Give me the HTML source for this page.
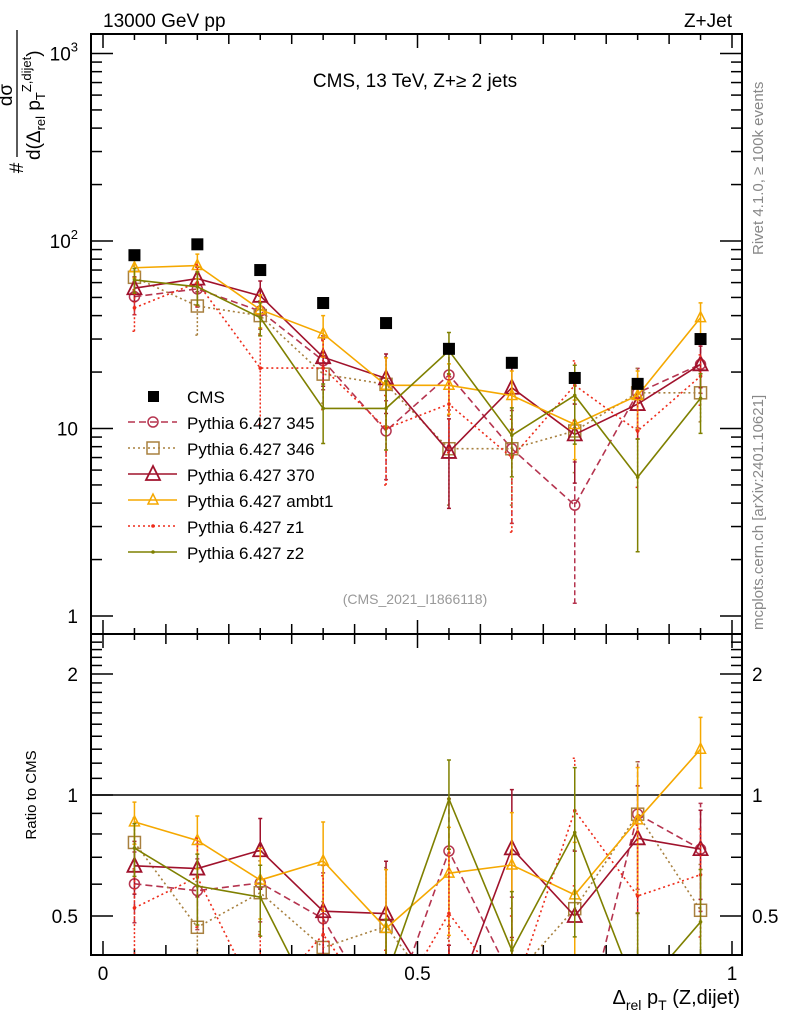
<!DOCTYPE html>
<html><head><meta charset="utf-8"><style>
html,body{margin:0;padding:0;background:#fff;width:786px;height:1024px;overflow:hidden;}
svg{display:block;font-family:"Liberation Sans",Arial,sans-serif;}
</style></head><body>
<svg id="plot" width="786" height="1024" viewBox="0 0 786 1024" xmlns="http://www.w3.org/2000/svg">
<defs>
<clipPath id="cMain"><rect x="91" y="34" width="651" height="600"/></clipPath>
<clipPath id="cRat"><rect x="91" y="634" width="651" height="321"/></clipPath>
</defs>
<text x="103" y="27" font-size="19">13000 GeV pp</text>
<text x="732" y="27" font-size="19" text-anchor="end">Z+Jet</text>
<text x="415" y="87" font-size="19" text-anchor="middle">CMS, 13 TeV, Z+≥ 2 jets</text>
<text x="415" y="604" font-size="14" fill="#999" text-anchor="middle">(CMS_2021_I1866118)</text>
<text transform="translate(763,255) rotate(-90)" font-size="15" fill="#888">Rivet 4.1.0, ≥ 100k events</text>
<text transform="translate(763,630) rotate(-90)" font-size="15" fill="#888">mcplots.cern.ch [arXiv:2401.10621]</text>
<g font-size="19">
<text transform="translate(23,168) rotate(-90)" text-anchor="middle">#</text>
<text transform="translate(12,95) rotate(-90)" text-anchor="middle">dσ</text>
<line x1="17" y1="30" x2="17" y2="157" stroke="#000" stroke-width="1.3"/>
<text transform="translate(40,160) rotate(-90)">d(Δ<tspan font-size="13" dy="5">rel</tspan><tspan dy="-5"> p</tspan><tspan font-size="13" dy="5">T</tspan><tspan font-size="13" dy="-14">Z,dijet</tspan><tspan dy="9">)</tspan></text>
</g>
<text transform="translate(36,795) rotate(-90)" font-size="15" text-anchor="middle">Ratio to CMS</text>
<text x="740" y="1004" font-size="20" text-anchor="end">Δ<tspan font-size="14" dy="6">rel</tspan><tspan dy="-6"> p</tspan><tspan font-size="14" dy="6">T</tspan><tspan dy="-6"> (Z,dijet)</tspan></text>
<g id="axes"></g>
<g id="mainMarks" clip-path="url(#cMain)"></g>
<g id="ratMarks" clip-path="url(#cRat)"></g>
<g id="legend"></g>
<rect x="91" y="34" width="651" height="600" fill="none" stroke="#000" stroke-width="2"/>
<rect x="91" y="634" width="651" height="321" fill="none" stroke="#000" stroke-width="2"/>
</svg>
<script>
const bins=[0.05,0.15,0.25,0.35,0.45,0.55,0.65,0.75,0.85,0.95];
const cmsVals=[84,96,70,46.7,36.5,26.6,22.4,18.6,17.3,30];
const v345=[50.5,55.5,42.3,23,9.7,19.3,7.8,3.9,15.5,22];
const v346=[64,45,40,19.5,17.2,7.8,7.8,9.7,15.5,15.5];
const v370=[56,63,51,24,18.5,7.5,16.5,9.3,13.5,22];
const vambt1=[72,74,43,32,17,17,15,10.5,15,39];
const vz1=[44,60,21,21,10,13.5,7,17,9.7,19];
const vz2=[62,57,39,12.8,12.8,26,9.2,15,5.5,14.5];
const e345=[0.2,0.2,0.2,0.3,0.45,0.35,0.6,0.7,0.35,0.3];
const e346=[0.15,0.3,0.2,0.3,0.4,0.5,0.5,0.4,0.35,0.3];
const e370=[0.15,0.15,0.2,0.3,0.35,0.5,0.4,0.45,0.35,0.25];
const eambt1=[0.12,0.15,0.2,0.25,0.4,0.3,0.35,0.35,0.35,0.2];
const ez1=[0.25,0.25,0.5,0.4,0.5,0.45,0.6,0.35,0.5,0.3];
const ez2=[0.15,0.2,0.2,0.35,0.4,0.25,0.4,0.45,0.6,0.35];
const yTicks=[1,10,100,1000];
const rTicks=[0.5,1,2];
const xTicks=[0,0.5,1];

const NS="http://www.w3.org/2000/svg";
const X=v=>103+629*v;
const Y=v=>616-187.5*Math.log10(v);
const R=v=>795-402*Math.log10(v);
function mk(tag,attrs,parent){const e=document.createElementNS(NS,tag);for(const k in attrs)e.setAttribute(k,attrs[k]);parent.appendChild(e);return e;}
const axes=document.getElementById('axes');
for(let i=0;i<=20;i++){const v=i*0.05;const major=(i%10===0);const minor01=(i%2===0);const L=major?14:(minor01?10:6);
 [634,34,955].forEach((yb,j)=>{const dir=(j===1)?1:-1;
  const t=mk('line',{x1:X(v),x2:X(v),y1:yb,y2:yb+dir*L,stroke:'#000','stroke-width':1.5},axes);
  
  
  if(j===0){mk('line',{x1:X(v),x2:X(v),y1:634,y2:634+L,stroke:'#000','stroke-width':1.5},axes);}
 });}
xTicks.forEach(v=>{const t=mk('text',{x:X(v),y:980,'font-size':19,'text-anchor':'middle'},axes);t.textContent=String(v);
 
 });
for(let d=0;d<4;d++){for(let m=1;m<10;m++){const v=m*Math.pow(10,d);if(v>1300)continue;const y=Y(v);if(y<34)continue;const L=m===1?22:11;
 mk('line',{x1:91,x2:91+L,y1:y,y2:y,stroke:'#000','stroke-width':1.5},axes);
 mk('line',{x1:742,x2:742-L,y1:y,y2:y,stroke:'#000','stroke-width':1.5},axes);}}
yTicks.forEach(v=>{const y=Y(v);const t=mk('text',{x:78,y:y+7,'font-size':19,'text-anchor':'end'},axes);
 if(v<100)t.textContent=String(v);else{t.textContent='10';const s=mk('tspan',{dy:-9,'font-size':13},t);s.textContent=String(Math.log10(v));}
 
 });
[0.4,0.5,0.6,0.7,0.8,0.9,1,2].forEach(v=>{const y=R(v);const major=(v===0.5||v===1||v===2);const L=major?22:11;
 mk('line',{x1:91,x2:91+L,y1:y,y2:y,stroke:'#000','stroke-width':1.5},axes);
 mk('line',{x1:742,x2:742-L,y1:y,y2:y,stroke:'#000','stroke-width':1.5},axes);});
for(let v=1.1;v<2.5;v+=0.1){if(Math.abs(v-2)<0.01)continue;const y=R(v);
 mk('line',{x1:91,x2:102,y1:y,y2:y,stroke:'#000','stroke-width':1.5},axes);
 mk('line',{x1:742,x2:731,y1:y,y2:y,stroke:'#000','stroke-width':1.5},axes);}
rTicks.forEach(v=>{const y=R(v);[78,752].forEach((x,i)=>{const t=mk('text',{x:x,y:y+7,'font-size':19,'text-anchor':i?'start':'end'},axes);t.textContent=String(v);
 
 });});
const ref=mk('line',{x1:91,x2:742,y1:R(1),y2:R(1),stroke:'#000','stroke-width':1.5},axes);



const series=[
 {name:'Pythia 6.427 345',key:'pythia-345',vals:v345,err:e345,color:'#b5344f',dash:'7,4',mark:'circle'},
 {name:'Pythia 6.427 346',key:'pythia-346',vals:v346,err:e346,color:'#a8803f',dash:'2,3',mark:'square'},
 {name:'Pythia 6.427 370',key:'pythia-370',vals:v370,err:e370,color:'#a0122c',dash:'',mark:'tri'},
 {name:'Pythia 6.427 ambt1',key:'pythia-ambt1',vals:vambt1,err:eambt1,color:'#f5a800',dash:'',mark:'trismall'},
 {name:'Pythia 6.427 z1',key:'pythia-z1',vals:vz1,err:ez1,color:'#ee2b1a',dash:'2,3',mark:'dot'},
 {name:'Pythia 6.427 z2',key:'pythia-z2',vals:vz2,err:ez2,color:'#7f8000',dash:'',mark:'dot'}];
function marker(type,x,y,c,g){
 if(type==='circle')return mk('circle',{cx:x,cy:y,r:5,fill:'none',stroke:c,'stroke-width':1.5},g);
 if(type==='square')return mk('rect',{x:x-6,y:y-6,width:12,height:12,fill:'none',stroke:c,'stroke-width':1.5},g);
 if(type==='tri')return mk('polygon',{points:`${x},${y-8} ${x-7},${y+6} ${x+7},${y+6}`,fill:'none',stroke:c,'stroke-width':1.8},g);
 if(type==='trismall')return mk('polygon',{points:`${x},${y-6} ${x-5},${y+4} ${x+5},${y+4}`,fill:'none',stroke:c,'stroke-width':1.5},g);
 return mk('circle',{cx:x,cy:y,r:1.8,fill:c},g);}
const mainG=document.getElementById('mainMarks'),ratG=document.getElementById('ratMarks');
series.forEach(s=>{
 [[mainG,Y,s.vals],[ratG,R,s.vals.map((v,i)=>v/cmsVals[i])]].forEach(([par,fy,vals],pi)=>{
  const g=mk('g',{},par);
  
  
  const pts=vals.map((v,i)=>X(bins[i])+','+fy(v)).join(' ');
  const pl=mk('polyline',{points:pts,fill:'none',stroke:s.color,'stroke-width':1.6},g);
  if(s.dash)pl.setAttribute('stroke-dasharray',s.dash);
  vals.forEach((v,i)=>{const x=X(bins[i]);const lo=fy(v*(1-s.err[i])),hi=fy(v*(1+s.err[i]));
   const eb=mk('path',{d:`M${x},${lo}V${hi}M${x-2},${lo}H${x+2}M${x-2},${hi}H${x+2}`,stroke:s.color,'stroke-width':1.5,fill:'none'},g);
   if(s.dash)eb.setAttribute('stroke-dasharray',s.dash==='2,3'?'2,2':'5,3');
   const m=marker(s.mark,x,fy(v),s.color,g);
   
   });
 });});
const cg=mk('g',{},mainG);


cmsVals.forEach((v,i)=>{const r=mk('rect',{x:X(bins[i])-6,y:Y(v)-6,width:12,height:12,fill:'#000'},cg);
 
 });
const lg=document.getElementById('legend');
const rows=[{name:'CMS',key:'cms'}].concat(series);
rows.forEach((s,i)=>{const y=396+26*i;const g=mk('g',{},lg);
 
 
 if(s.key==='cms'){mk('rect',{x:148,y:y-5,width:11,height:11,fill:'#000'},g);}
 else{const l=mk('line',{x1:128,x2:177,y1:y,y2:y,stroke:s.color,'stroke-width':1.6},g);if(s.dash)l.setAttribute('stroke-dasharray',s.dash);marker(s.mark,153,y,s.color,g);}
 const t=mk('text',{x:187,y:y+7,'font-size':17},g);t.textContent=s.key==='cms'?'CMS':s.name;});
</script>
</body></html>
